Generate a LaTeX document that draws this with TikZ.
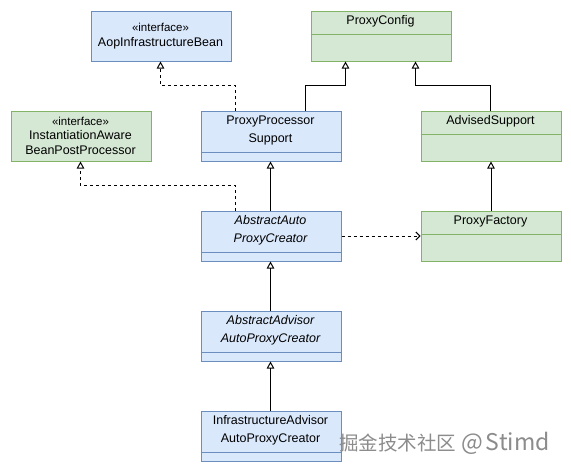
\documentclass[tikz,border=0pt]{standalone}
\usepackage{fontspec}
\setmainfont{Liberation Sans}
\newfontfamily\cjkfont{Noto Sans CJK SC}
\usetikzlibrary{arrows.meta}
\definecolor{bfill}{HTML}{DAE8FC}
\definecolor{bdraw}{HTML}{6C8EBF}
\definecolor{gfill}{HTML}{D5E8D4}
\definecolor{gdraw}{HTML}{82B366}
\tikzset{
  box/.style={draw, line width=1pt, minimum width=140pt, minimum height=50pt, inner sep=0pt, anchor=north west},
  bluebox/.style={box, fill=bfill, draw=bdraw},
  greenbox/.style={box, fill=gfill, draw=gdraw},
  title/.style={font=\fontsize{12.5}{18}\selectfont, align=center, inner sep=0pt},
  ititle/.style={title, font=\fontsize{12.5}{18}\selectfont\itshape},
  stereo/.style={font=\fontsize{11.5}{14.5}\selectfont, align=center, inner sep=0pt},
  gen/.style={line width=1pt, -{Triangle[open, length=7pt, width=7.5pt]}},
  real/.style={gen, dash pattern=on 3pt off 3pt},
  dep/.style={line width=1pt, dash pattern=on 3pt off 3pt, -{Straight Barb[length=4pt, width=8pt]}},
  bdiv/.style={draw=bdraw, line width=1pt},
  gdiv/.style={draw=gdraw, line width=1pt}
}
\begin{document}
\begin{tikzpicture}[x=1pt, y=-1pt]
\useasboundingbox[fill=white] (0,0) rectangle (571,471);

% boxes
\node[bluebox]  (aop)   at (90.5,10.5)  {};
\node[greenbox] (pc)    at (310.5,10.5) {};
\node[greenbox] (iabpp) at (10.5,110.5) {};
\node[bluebox]  (pps)   at (200.5,110.5) {};
\node[greenbox] (as)    at (420.5,110.5) {};
\node[bluebox]  (aapc)  at (200.5,210.5) {};
\node[greenbox] (pf)    at (420.5,210.5) {};
\node[bluebox]  (aaapc) at (200.5,310.5) {};
\node[bluebox]  (iaapc) at (200.5,410.5) {};

% dividers
\draw[gdiv] (310.5,34.5) -- (450.5,34.5);
\draw[bdiv] (200.5,152.5) -- (340.5,152.5);
\draw[gdiv] (420.5,134.5) -- (560.5,134.5);
\draw[bdiv] (200.5,252.5) -- (340.5,252.5);
\draw[gdiv] (420.5,234.5) -- (560.5,234.5);
\draw[bdiv] (200.5,352.5) -- (340.5,352.5);
\draw[bdiv] (200.5,452.5) -- (340.5,452.5);

% texts
\node[stereo] (aopS) at (160.5,27.5) {«interface»};
\node[title]  (aopT) at (160.5,43.5) {AopInfrastructureBean};
\node[title]  (pcT)  at (380.5,21.5) {ProxyConfig};
\node[stereo] (iaS)  at (80.5,121) {«interface»};
\node[title, font=\fontsize{12.5}{14.5}\selectfont] (iaT) at (80.5,142.5) {InstantiationAware\\BeanPostProcessor};
\node[title]  (ppsT) at (270.5,130) {ProxyProcessor\\Support};
\node[title]  (asT)  at (490.5,121.5) {AdvisedSupport};
\node[ititle] (aapcT) at (270.5,230) {AbstractAuto\\ProxyCreator};
\node[title]  (pfT)  at (490.5,221.5) {ProxyFactory};
\node[ititle] (aaapcT) at (270.5,330) {AbstractAdvisor\\AutoProxyCreator};
\node[title]  (iaapcT) at (270.5,430) {InfrastructureAdvisor\\AutoProxyCreator};

% bend points
\coordinate (b1) at (305.5,85.5);
\coordinate (b2) at (345.5,85.5);
\coordinate (b3) at (490.5,85.5);
\coordinate (b4) at (415.5,85.5);
\coordinate (b5) at (235.5,85.5);
\coordinate (b6) at (160.5,85.5);
\coordinate (b7) at (235.5,185.5);
\coordinate (b8) at (80.5,185.5);
\coordinate (c1) at (270.5,0);

% connectors
\draw[gen] (b1 |- pps.north) -- (b1) -- (b2) -- (b2 |- pc.south);
\draw[gen] (b3 |- as.north) -- (b3) -- (b4) -- (b4 |- pc.south);
\draw[gen] (pf.north) -- (as.south);
\draw[gen] (c1 |- aapc.north) -- (c1 |- pps.south);
\draw[gen] (c1 |- aaapc.north) -- (c1 |- aapc.south);
\draw[gen] (c1 |- iaapc.north) -- (c1 |- aaapc.south);
\draw[real] (b5 |- pps.north) -- (b5) -- (b6) -- (b6 |- aop.south);
\draw[real] (b7 |- aapc.north) -- (b7) -- (b8) -- (b8 |- iabpp.south);
\draw[dep] (aapc.east) -- (pf.west);

% watermark
\node[font=\cjkfont\fontsize{19.5}{19.5}\selectfont, text=black!45, anchor=west, inner sep=0pt] (wm) at (339,443) {掘金技术社区\hspace{5pt}{\fontsize{23}{23}\selectfont @\hspace{3pt}Stimd}};
\end{tikzpicture}
\end{document}
